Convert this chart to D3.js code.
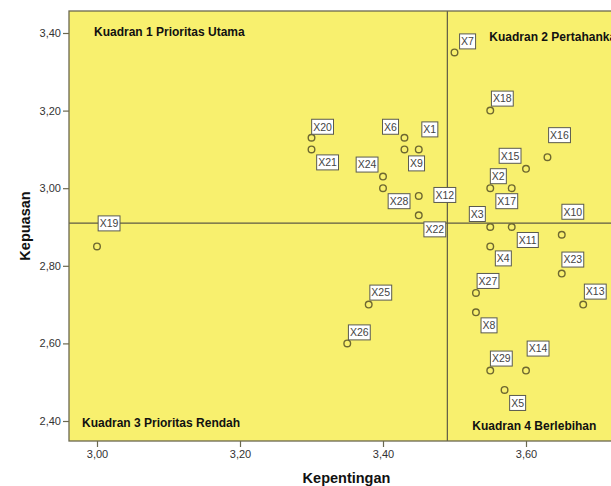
<!DOCTYPE html>
<html>
<head>
<meta charset="utf-8">
<script src="https://cdn.jsdelivr.net/npm/d3@7"></script>
<style>
  html, body { margin: 0; padding: 0; background: #fff; }
  svg { display: block; font-family: Arial, "Liberation Sans", sans-serif; }
</style>
</head>
<body>
<svg id="chart" width="611" height="486"></svg>
<script>
// ---- data ----
const names = ["X1","X2","X3","X4","X5","X6","X7","X8","X9","X10",
  "X11","X12","X13","X14","X15","X16","X17","X18","X19","X20",
  "X21","X22","X23","X24","X25","X26","X27","X28","X29"];
const kepentingan = [3.45,3.55,3.55,3.55,3.57,3.43,3.50,3.53,3.43,3.65,
  3.58,3.45,3.68,3.60,3.60,3.63,3.58,3.55,3.00,3.30,
  3.30,3.45,3.65,3.40,3.38,3.35,3.53,3.40,3.55];
const kepuasan = [3.10,3.00,2.90,2.85,2.48,3.13,3.35,2.68,3.10,2.88,
  2.90,2.98,2.70,2.53,3.05,3.08,3.00,3.20,2.85,3.13,
  3.10,2.93,2.78,3.03,2.70,2.60,2.73,3.00,2.53];
const meanKepentingan = 3.49;
const meanKepuasan = 2.91;
const xTicks = [3.00, 3.20, 3.40, 3.60];
const yTicks = [2.40, 2.60, 2.80, 3.00, 3.20, 3.40];
const quadrantLabels = ["Kuadran 1 Prioritas Utama", "Kuadran 2 Pertahankan Prestasi",
  "Kuadran 3 Prioritas Rendah", "Kuadran 4 Berlebihan"];

// ---- label layout (pixel offsets of label box centre from its point) ----
const labelOffset = {
  X1:[11,-20], X2:[8,-12], X3:[-13,-13], X4:[13,12], X5:[13,13], X6:[-14,-11],
  X7:[13,-11], X8:[13,13], X9:[12,14], X10:[11,-23], X11:[16,13], X12:[26,-1],
  X13:[12,-13], X14:[12,-22], X15:[-16,-13], X16:[12,-22], X17:[-5,13], X18:[12,-12],
  X19:[12,-23], X20:[11,-11], X21:[16,13], X22:[16,14], X23:[11,-14], X24:[-16,-12],
  X25:[12,-12], X26:[12,-11], X27:[12,-12], X28:[16,13], X29:[11,-12]
};

const data = names.map((n, i) => ({ name: n, x: kepentingan[i], y: kepuasan[i] }));

// ---- layout ----
const svg = d3.select("#chart");
const L = 69, R = 624, T = 11, B = 441;
const x = d3.scaleLinear().domain([2.96084, 3.73706]).range([L, R]);
const y = d3.scaleLinear().domain([2.34845, 3.45670]).range([B, T]);

const locale = d3.formatLocale({ decimal: ",", thousands: ".", grouping: [3], currency: ["", ""] });
const fmt = locale.format(".2f");

const frameColor = "#6b6850";
const pointColor = "#6e6830";

// plot background
svg.append("rect").attr("x", L).attr("y", T).attr("width", R - L).attr("height", B - T)
  .attr("fill", "#f8f06e");

// reference lines
svg.append("line").attr("x1", x(meanKepentingan)).attr("x2", x(meanKepentingan))
  .attr("y1", T).attr("y2", B).attr("stroke", "#5e5a45").attr("stroke-width", 1.2);
svg.append("line").attr("x1", L).attr("x2", R)
  .attr("y1", y(meanKepuasan)).attr("y2", y(meanKepuasan))
  .attr("stroke", "#5e5a45").attr("stroke-width", 1.2);

// frame
svg.append("rect").attr("x", L).attr("y", T).attr("width", R - L).attr("height", B - T)
  .attr("fill", "none").attr("stroke", frameColor).attr("stroke-width", 1.3);

// axes
const xAxis = svg.append("g").attr("transform", `translate(0,${B})`)
  .call(d3.axisBottom(x).tickValues(xTicks).tickFormat(fmt).tickSize(6).tickPadding(3));
const yAxis = svg.append("g").attr("transform", `translate(${L},0)`)
  .call(d3.axisLeft(y).tickValues(yTicks).tickFormat(fmt).tickSize(6).tickPadding(2));
[xAxis, yAxis].forEach(g => {
  g.select(".domain").remove();
  g.selectAll(".tick line").attr("stroke", frameColor).attr("stroke-width", 1.2);
  g.selectAll(".tick text").attr("fill", "#333").style("font-size", "11px")
    .style("font-family", "Arial, 'Liberation Sans', sans-serif");
});

// axis titles
svg.append("text").attr("x", (L + R) / 2).attr("y", 483).attr("text-anchor", "middle")
  .style("font-size", "14.5px").style("font-weight", "bold").attr("fill", "#111")
  .text("Kepentingan");
svg.append("text").attr("transform", `translate(30,${(T + B) / 2}) rotate(-90)`)
  .attr("text-anchor", "middle")
  .style("font-size", "14.5px").style("font-weight", "bold").attr("fill", "#111")
  .text("Kepuasan");

// quadrant labels
const qPos = [[L + 25, T + 25], [x(meanKepentingan) + 42, T + 30], [L + 13, B - 14], [x(meanKepentingan) + 25, B - 11]];
quadrantLabels.forEach((t, i) => {
  svg.append("text").attr("x", qPos[i][0]).attr("y", qPos[i][1])
    .style("font-size", "12px").style("font-weight", "bold").attr("fill", "#111")
    .text(t);
});

// points
svg.append("g").selectAll("circle").data(data).join("circle")
  .attr("cx", d => x(d.x)).attr("cy", d => y(d.y)).attr("r", 3.3)
  .attr("fill", "none").attr("stroke", pointColor).attr("stroke-width", 1.4);

// point labels
const lg = svg.append("g").selectAll("g").data(data).join("g")
  .attr("transform", d => {
    const o = labelOffset[d.name];
    return `translate(${x(d.x) + o[0]},${y(d.y) + o[1]})`;
  });
const lt = lg.append("text").attr("text-anchor", "middle").attr("dy", "0.36em")
  .style("font-size", "10.5px").attr("fill", "#444").text(d => d.name);
lt.each(function() {
  const bb = this.getBBox();
  d3.select(this.parentNode).insert("rect", "text")
    .attr("x", bb.x - 1.5).attr("y", -7.5)
    .attr("width", bb.width + 3).attr("height", 15)
    .attr("fill", "#fff").attr("stroke", "#5a5a50").attr("stroke-width", 1);
});
</script>
</body>
</html>
